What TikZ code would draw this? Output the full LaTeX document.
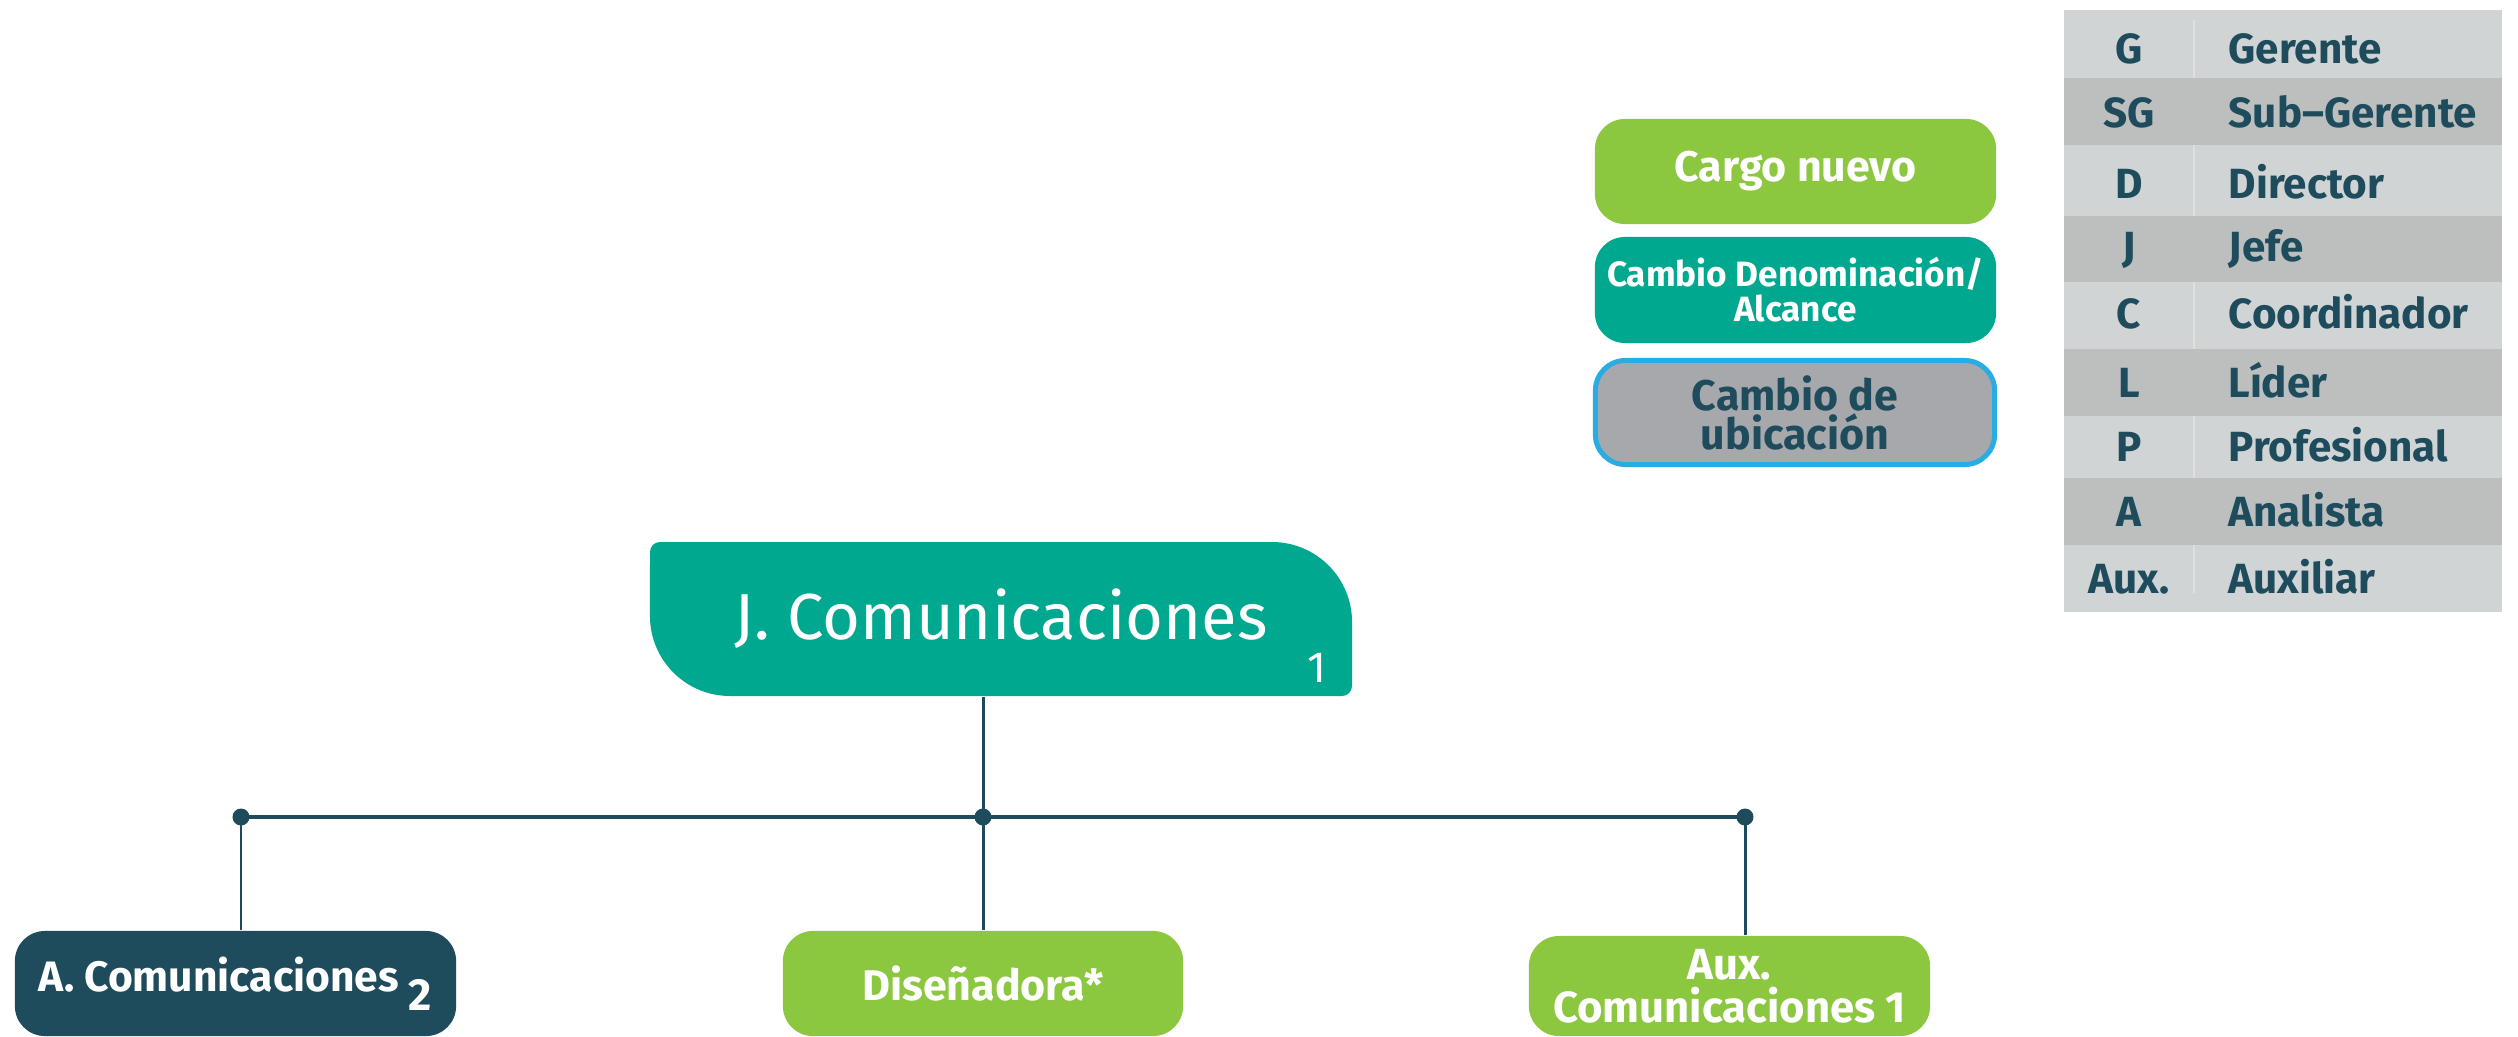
\documentclass[tikz,border=0pt]{standalone}
\usepackage{fontspec}
\setmainfont{Fira Sans}
\usetikzlibrary{backgrounds}
\definecolor{green}{rgb}{0.55, 0.78, 0.25}
\definecolor{teal}{rgb}{0.0, 0.66, 0.56}
\definecolor{dark}{rgb}{0.12, 0.30, 0.36}
\definecolor{gray}{rgb}{0.65, 0.66, 0.67}
\definecolor{blue}{rgb}{0.16, 0.67, 0.89}
\definecolor{rowlight}{rgb}{0.82, 0.83, 0.83}
\definecolor{rowdark}{rgb}{0.74, 0.75, 0.75}
\definecolor{divider}{rgb}{0.87, 0.88, 0.88}

\begin{document}
\begin{tikzpicture}[x=0.01cm,y=-0.01cm,
	box/.style={rounded corners=0.3cm,inner sep=0,align=center,text=white,font=\bfseries\fontsize{12.2}{12}\selectfont},
	dot/.style={circle,fill=dark,inner sep=0,minimum size=0.17cm},
	link/.style={draw=dark,line width=0.85pt},
	tabtxt/.style={text=dark,inner sep=0,font=\bfseries\fontsize{12}{14}\selectfont}]
	 	\useasboundingbox (0,0) rectangle (2518,1036);
	 	\clip (0,0) rectangle (2518,1036);
	 	% legend
	 	\node[box,fill=green,minimum width=4.01cm,minimum height=1.05cm] (nuevo) at (1795.5,171.5) {Cargo nuevo};
	 	\node[box,fill=teal,minimum width=4.01cm,minimum height=1.06cm,font=\bfseries\fontsize{10}{10}\selectfont] (denom) at (1795.5,290) {Cambio Denominación/\\Alcance};
	 	\node[box,fill=gray,draw=blue,line width=0.05cm,text=dark,minimum width=3.99cm,minimum height=1.04cm,font=\bfseries\fontsize{12.2}{11.1}\selectfont] (ubica) at (1795,412.5) {Cambio de\\ubicación};
	 	% table
	 	\foreach \t/\b/\c in {10/78/rowlight,78/145/rowdark,145/216/rowlight,216/282/rowdark,282/349/rowlight,349/416/rowdark,416/478/rowlight,478/545/rowdark,545/612/rowlight}
	 		\fill[\c] (2064,\t) rectangle (2502,\b);
	 	\foreach \t/\b in {20/78,145/216,282/349,416/478,545/593}
	 		\draw[divider,line width=0.4pt] (2194,\t) -- (2194,\b);
	 	\foreach \y/\ab/\nm [count=\i] in {63/G/Gerente,127/SG/Sub–Gerente,198/D/Director,261/J/Jefe,328/C/Coordinador,397/L/Líder,461/P/Profesional,526/A/Analista,593/Aux./Auxiliar}{
	 		\node[tabtxt,anchor=base] (ab\i) at (2129,\y) {\ab};
	 		\node[tabtxt,anchor=base west] (nm\i) at (2228,\y) {\nm};
	 	}
	 	% chart
	 	\node[inner sep=0,minimum width=7.02cm,minimum height=1.54cm,text=white,font=\fontsize{18.5}{22}\selectfont] (jefe) at (1001,619) {J. Comunicaciones};
	 	\node[inner sep=0,anchor=base,text=white,font=\fontsize{12.4}{14}\selectfont] (jnum) at (1317,682) {1};
	 	\begin{scope}[on background layer]
	 		\fill[teal] (660,542) -- (1272,542) arc (90:0:0.8cm) -- (1352,686) arc (0:-90:0.1cm)
	 			-- (730,696) arc (270:180:0.8cm) -- (650,552) arc (180:90:0.1cm) -- cycle;
	 	\end{scope}
	 	\node[dot] (dA) at (241,817) {};
	 	\node[dot] (dD) at (983,817) {};
	 	\node[dot] (dX) at (1745,817) {};
	 	\node[box,fill=dark,minimum width=4.41cm,minimum height=1.05cm,font=\bfseries\fontsize{12.1}{12}\selectfont] (anal) at (235.5,983.5) {A. Comunicaciones \raisebox{-5.4pt}{\fontsize{12.8}{12}\selectfont 2}};
	 	\node[box,fill=green,minimum width=4.00cm,minimum height=1.05cm,font=\bfseries\fontsize{12.2}{12}\selectfont] (disen) at (983,983.5) {Diseñadora*};
	 	\node[box,fill=green,minimum width=4.01cm,minimum height=1.00cm,font=\bfseries\fontsize{12.4}{12.2}\selectfont] (aux) at (1729.5,986) {Aux.\\Comunicaciones 1};
	 	\draw[link,line width=1pt] (dA.center) -- (dX.center);
	 	\draw[link] (jefe.south -| dD) -- (dD.center);
	 	\draw[link] (dA.center) -- (dA |- anal.north);
	 	\draw[link] (dD.center) -- (dD |- disen.north);
	 	\draw[link] (dX.center) -- (dX |- aux.north);
\end{tikzpicture}
\end{document}
